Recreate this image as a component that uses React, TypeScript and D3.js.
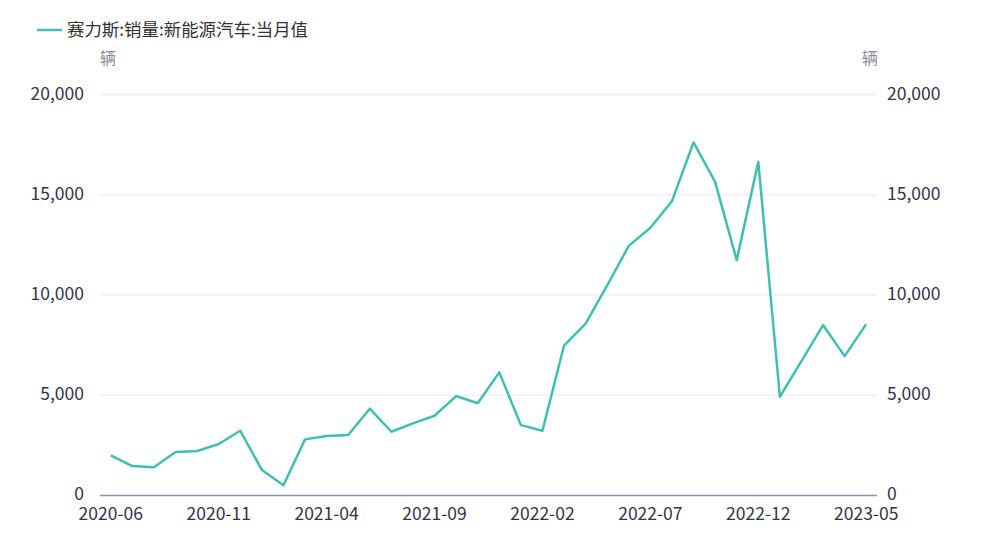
import React from "react";
import * as d3 from "d3";

const months: string[] = [
  "2020-06","2020-07","2020-08","2020-09","2020-10","2020-11","2020-12",
  "2021-01","2021-02","2021-03","2021-04","2021-05","2021-06","2021-07","2021-08","2021-09","2021-10","2021-11","2021-12",
  "2022-01","2022-02","2022-03","2022-04","2022-05","2022-06","2022-07","2022-08","2022-09","2022-10","2022-11","2022-12",
  "2023-01","2023-02","2023-03","2023-04","2023-05",
];
const sales: number[] = [
  2000, 1470, 1410, 2170, 2220, 2570, 3230,
  1270, 510, 2800, 2970, 3020, 4330, 3180, 3600, 3980, 4960, 4600, 6140,
  3510, 3230, 7480, 8570, 10480, 12450, 13350, 14680, 17610, 15640, 11740, 16640,
  4925, 6700, 8500, 6950, 8550,
];
const yTicks: number[] = [0, 5000, 10000, 15000, 20000];
const xTickLabels: string[] = ["2020-06","2020-11","2021-04","2021-09","2022-02","2022-07","2022-12","2023-05"];
const seriesName = "赛力斯:销量:新能源汽车:当月值";
const unit = "辆";

const W = 984, H = 537;
const left = 100, right = 877, top = 94.5, bottom = 495.5;
const FONT = "'Noto Sans CJK SC', 'Noto Sans', sans-serif";

export default function App() {
  const x = d3.scaleBand<string>().domain(months).range([left, right]);
  const y = d3.scaleLinear().domain([0, 20000]).range([bottom, top]);
  const cx = (m: string) => (x(m) as number) + x.bandwidth() / 2;
  const line = d3.line<number>().x((_, i) => cx(months[i])).y((d) => y(d));
  const fmt = d3.format(",");
  return (
    <svg width={W} height={H} style={{ position: "absolute", left: 0, top: 0 }} fontFamily={FONT}>
      <rect width={W} height={H} fill="#fff" />
      {/* legend */}
      <line x1={37} x2={62} y1={30} y2={30} stroke="#40bfb1" strokeWidth={2.5} />
      <text x={67} y={36} fontSize={17.5} fill="#333" textLength={241} lengthAdjust="spacingAndGlyphs">{seriesName}</text>
      <text x={108} y={64} fontSize={16} fill="#8a8a94" textAnchor="middle">{unit}</text>
      <text x={870} y={64} fontSize={16} fill="#8a8a94" textAnchor="middle">{unit}</text>
      {/* grid */}
      {yTicks.filter((t) => t > 0).map((t) => (
        <line key={t} x1={left} x2={right} y1={y(t)} y2={y(t)} stroke="#f0f0f5" strokeWidth={1.5} />
      ))}
      {yTicks.map((t) => (
        <g key={"l" + t}>
          <text x={84} y={y(t) + (t === 0 ? 4 : 5)} fontSize={17.5} fill="#33334a" textAnchor="end">{fmt(t)}</text>
          <text x={887} y={y(t) + (t === 0 ? 4 : 5)} fontSize={17.5} fill="#33334a" textAnchor="start">{fmt(t)}</text>
        </g>
      ))}
      {/* x axis */}
      <line x1={left} x2={right} y1={bottom} y2={bottom} stroke="#8e93ab" strokeWidth={1.5} />
      {xTickLabels.map((m) => (
        <text key={m} x={cx(m)} y={520} fontSize={17.5} fill="#33334a" textAnchor="middle">{m}</text>
      ))}
      <path d={line(sales) as string} fill="none" stroke="#40bfb1" strokeWidth={2.5} strokeLinejoin="round" />
    </svg>
  );
}
